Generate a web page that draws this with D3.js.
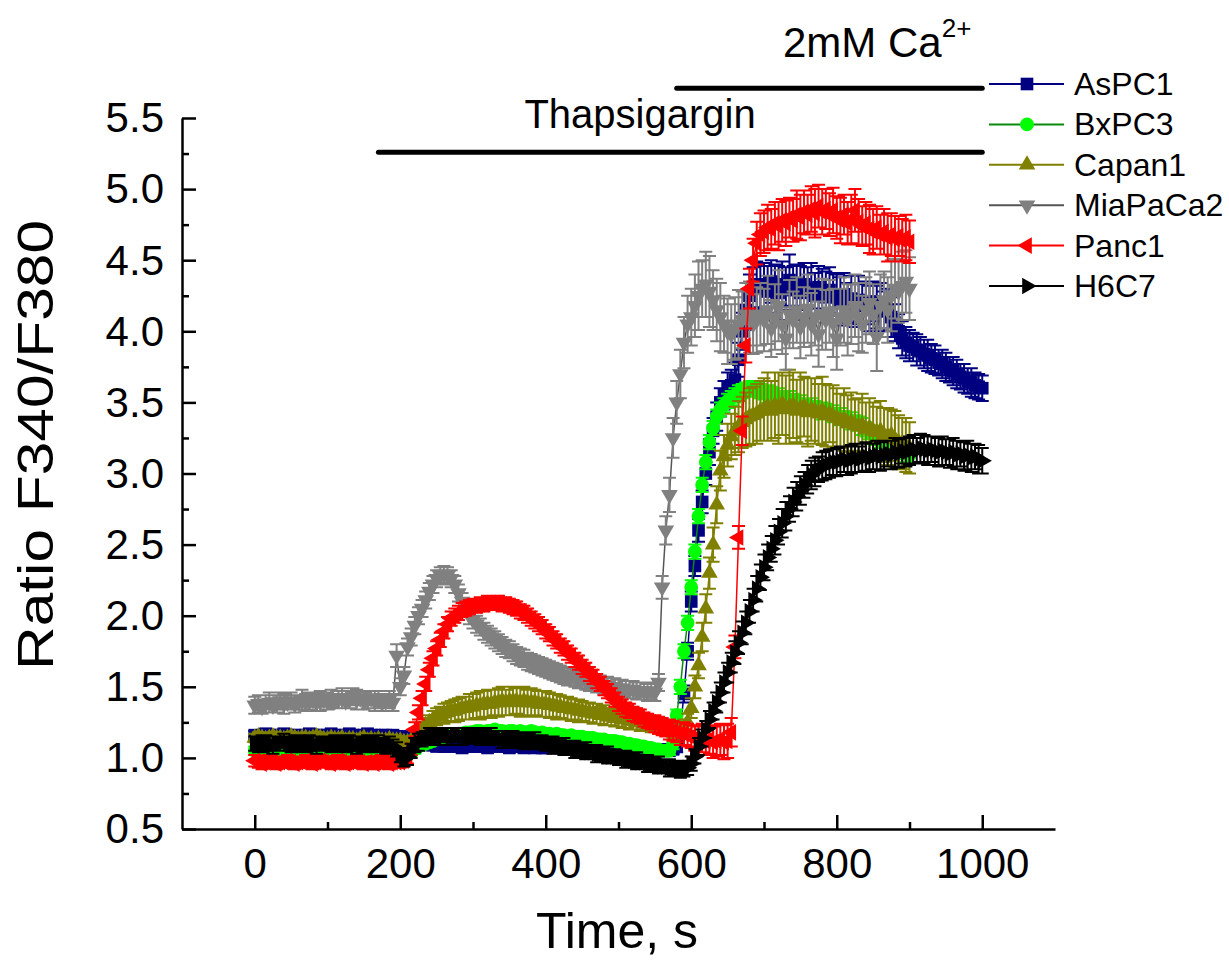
<!DOCTYPE html>
<html lang="en">
<head>
<meta charset="UTF-8">
<title>Ratio F340/F380</title>
<script src="https://cdn.jsdelivr.net/npm/d3@7"></script>
<style>
  body { margin: 0; background: #fff; }
  text { font-family: "Liberation Sans", Arial, sans-serif; fill: #000; }
</style>
</head>
<body>
<script>
// frames every 5 s
const dt = 5;

// F340/F380 ratio, one row = 100 s
const valAsPC1 = [
  1.16,1.15,1.16,1.17,1.16,1.15,1.16,1.16,1.17,1.16,1.15,1.16,1.16,1.15,1.16,1.17,1.16,1.16,1.15,1.16,
  1.16,1.17,1.16,1.15,1.16,1.16,1.17,1.16,1.15,1.16,1.16,1.17,1.16,1.16,1.15,1.16,1.16,1.15,1.16,1.15,
  1.15,1.15,1.14,1.13,1.12,1.11,1.10,1.10,1.09,1.09,1.08,1.09,1.08,1.08,1.09,1.08,1.08,1.07,1.08,1.08,
  1.08,1.09,1.08,1.08,1.07,1.08,1.08,1.09,1.08,1.08,1.07,1.08,1.08,1.08,1.07,1.08,1.08,1.07,1.08,1.07,
  1.07,1.08,1.07,1.07,1.08,1.07,1.07,1.06,1.07,1.07,1.08,1.07,1.07,1.06,1.07,1.07,1.06,1.07,1.07,1.06,
  1.07,1.06,1.06,1.07,1.06,1.06,1.05,1.06,1.06,1.05,1.06,1.06,1.05,1.06,1.05,1.06,1.08,1.20,1.45,1.75,
  2.10,2.35,2.60,2.80,3.00,3.15,3.30,3.40,3.50,3.55,3.60,3.62,3.66,3.80,4.00,4.15,4.25,4.30,4.33,4.30,
  4.32,4.28,4.35,4.30,4.27,4.33,4.30,4.36,4.29,4.31,4.27,4.33,4.28,4.30,4.25,4.31,4.27,4.24,4.29,4.26,
  4.24,4.21,4.26,4.20,4.23,4.18,4.22,4.19,4.20,4.16,4.21,4.17,4.18,4.14,4.15,4.10,4.06,4.00,3.95,3.92,
  3.90,3.89,3.87,3.86,3.84,3.83,3.81,3.80,3.78,3.77,3.75,3.73,3.72,3.70,3.68,3.67,3.65,3.64,3.62,3.61,
  3.60
];
const valBxPC3 = [
  1.05,1.04,1.05,1.06,1.05,1.04,1.05,1.05,1.06,1.05,1.04,1.05,1.05,1.06,1.05,1.04,1.05,1.05,1.04,1.05,
  1.05,1.06,1.05,1.04,1.05,1.05,1.06,1.05,1.04,1.05,1.05,1.04,1.05,1.06,1.05,1.05,1.04,1.05,1.05,1.04,
  1.04,1.03,1.03,1.04,1.06,1.08,1.09,1.10,1.11,1.12,1.13,1.14,1.15,1.15,1.16,1.16,1.17,1.17,1.18,1.18,
  1.18,1.19,1.19,1.18,1.19,1.19,1.20,1.19,1.19,1.18,1.19,1.19,1.18,1.19,1.18,1.18,1.19,1.18,1.17,1.18,
  1.17,1.17,1.16,1.17,1.16,1.16,1.15,1.16,1.15,1.15,1.15,1.14,1.14,1.14,1.13,1.13,1.13,1.12,1.12,1.12,
  1.11,1.11,1.10,1.10,1.09,1.09,1.08,1.08,1.07,1.07,1.06,1.06,1.05,1.05,1.05,1.10,1.30,1.50,1.75,1.95,
  2.20,2.45,2.70,2.92,3.08,3.22,3.32,3.40,3.45,3.48,3.51,3.53,3.55,3.57,3.58,3.59,3.60,3.60,3.59,3.58,
  3.57,3.56,3.56,3.55,3.54,3.53,3.53,3.52,3.51,3.50,3.49,3.48,3.48,3.47,3.46,3.45,3.44,3.44,3.43,3.42,
  3.41,3.40,3.39,3.38,3.37,3.36,3.35,3.33,3.31,3.29,3.27,3.25,3.23,3.21,3.20,3.18,3.17,3.16,3.15,3.14,
  3.13
];
const valCapan1 = [
  1.14,1.15,1.14,1.13,1.14,1.15,1.14,1.14,1.13,1.14,1.15,1.14,1.13,1.14,1.14,1.13,1.14,1.15,1.14,1.13,
  1.13,1.14,1.13,1.13,1.14,1.12,1.13,1.13,1.12,1.13,1.14,1.12,1.13,1.12,1.13,1.12,1.12,1.13,1.12,1.12,
  1.12,1.11,1.11,1.12,1.15,1.18,1.20,1.23,1.25,1.27,1.29,1.30,1.31,1.32,1.33,1.33,1.34,1.35,1.35,1.36,
  1.36,1.37,1.37,1.38,1.38,1.38,1.39,1.39,1.40,1.39,1.40,1.40,1.40,1.39,1.40,1.39,1.39,1.39,1.38,1.38,
  1.38,1.37,1.37,1.36,1.36,1.35,1.35,1.34,1.34,1.33,1.33,1.32,1.32,1.31,1.31,1.30,1.30,1.29,1.29,1.28,
  1.28,1.27,1.27,1.26,1.26,1.25,1.25,1.24,1.24,1.23,1.23,1.22,1.22,1.21,1.21,1.20,1.20,1.20,1.21,1.25,
  1.35,1.50,1.65,1.85,2.05,2.30,2.50,2.78,3.02,3.12,3.20,3.26,3.30,3.33,3.36,3.38,3.40,3.41,3.42,3.44,
  3.45,3.47,3.44,3.48,3.46,3.49,3.45,3.47,3.48,3.44,3.46,3.47,3.43,3.45,3.44,3.42,3.44,3.41,3.42,3.40,
  3.39,3.37,3.38,3.35,3.36,3.34,3.33,3.34,3.31,3.32,3.30,3.29,3.30,3.27,3.26,3.27,3.24,3.22,3.21,3.20,
  3.18
];
const valMiaPaCa2 = [
  1.37,1.38,1.36,1.38,1.39,1.37,1.38,1.40,1.38,1.39,1.40,1.38,1.39,1.41,1.39,1.40,1.41,1.39,1.40,1.41,
  1.40,1.42,1.40,1.41,1.42,1.40,1.41,1.43,1.41,1.42,1.40,1.41,1.42,1.40,1.41,1.39,1.40,1.41,1.39,1.72,
  1.50,1.58,1.78,1.85,1.93,2.00,2.05,2.11,2.17,2.22,2.26,2.28,2.29,2.28,2.26,2.22,2.16,2.10,2.05,2.00,
  1.97,1.94,1.92,1.89,1.87,1.85,1.83,1.81,1.79,1.77,1.76,1.74,1.72,1.71,1.70,1.68,1.67,1.66,1.65,1.64,
  1.63,1.62,1.61,1.60,1.59,1.58,1.57,1.57,1.56,1.55,1.55,1.54,1.53,1.53,1.52,1.52,1.51,1.51,1.50,1.50,
  1.49,1.49,1.48,1.48,1.48,1.47,1.47,1.47,1.46,1.47,1.46,1.53,2.20,2.60,2.85,3.25,3.50,3.70,3.92,4.05,
  4.10,4.18,4.25,4.30,4.33,4.28,4.22,4.15,4.10,4.05,4.00,3.98,4.02,4.05,4.08,4.12,4.10,4.05,4.08,4.12,
  4.08,4.15,4.02,4.10,4.18,4.05,3.95,4.12,4.08,4.15,4.03,4.10,4.16,4.05,4.10,3.98,4.12,4.08,4.14,4.06,
  3.95,4.10,4.15,4.08,4.12,4.18,4.10,4.05,4.15,4.20,4.12,3.96,4.18,4.22,4.15,4.25,4.30,4.28,4.32,4.35,
  4.30
];
const valPanc1 = [
  0.98,0.97,0.96,0.97,0.98,0.97,0.96,0.97,0.97,0.98,0.97,0.96,0.97,0.97,0.98,0.97,0.96,0.97,0.98,0.97,
  0.97,0.96,0.97,0.98,0.97,0.96,0.97,0.97,0.98,0.97,0.96,0.97,0.97,0.96,0.97,0.98,0.97,0.96,0.97,0.97,
  0.97,0.98,1.00,1.06,1.20,1.32,1.42,1.52,1.62,1.70,1.77,1.83,1.89,1.94,1.98,2.00,2.02,2.04,2.05,2.06,
  2.07,2.07,2.08,2.08,2.09,2.09,2.09,2.09,2.08,2.08,2.07,2.06,2.05,2.03,2.02,2.00,1.98,1.96,1.94,1.92,
  1.89,1.87,1.84,1.82,1.79,1.77,1.74,1.72,1.69,1.67,1.64,1.62,1.59,1.57,1.54,1.52,1.49,1.47,1.44,1.41,
  1.38,1.36,1.34,1.33,1.31,1.30,1.29,1.27,1.26,1.25,1.24,1.23,1.22,1.21,1.20,1.19,1.18,1.17,1.17,1.16,
  1.15,1.14,1.13,1.14,1.12,1.13,1.11,1.12,1.13,1.11,1.12,1.18,1.78,2.55,3.30,3.90,4.30,4.50,4.62,4.68,
  4.70,4.73,4.72,4.76,4.74,4.78,4.76,4.80,4.78,4.82,4.80,4.84,4.82,4.86,4.83,4.88,4.84,4.86,4.82,4.85,
  4.80,4.78,4.82,4.76,4.79,4.85,4.77,4.74,4.76,4.72,4.70,4.73,4.68,4.70,4.66,4.68,4.65,4.67,4.64,4.66,
  4.63
];
const valH6C7 = [
  1.10,1.09,1.10,1.11,1.10,1.09,1.10,1.10,1.11,1.10,1.09,1.10,1.10,1.09,1.10,1.11,1.10,1.09,1.10,1.10,
  1.10,1.09,1.10,1.10,1.09,1.10,1.11,1.10,1.09,1.10,1.09,1.10,1.10,1.09,1.10,1.09,1.08,1.09,1.08,1.06,
  1.02,0.99,1.01,1.05,1.09,1.11,1.13,1.14,1.15,1.15,1.16,1.15,1.16,1.16,1.15,1.16,1.16,1.15,1.16,1.15,
  1.15,1.16,1.15,1.15,1.14,1.15,1.14,1.14,1.13,1.14,1.13,1.13,1.12,1.13,1.12,1.12,1.11,1.12,1.11,1.11,
  1.10,1.10,1.09,1.09,1.08,1.08,1.07,1.07,1.06,1.06,1.05,1.05,1.04,1.04,1.03,1.03,1.02,1.02,1.01,1.01,
  1.00,1.00,0.99,0.99,0.98,0.98,0.97,0.97,0.96,0.96,0.95,0.95,0.94,0.94,0.93,0.93,0.92,0.92,0.92,0.93,
  0.96,1.01,1.08,1.14,1.20,1.27,1.33,1.39,1.46,1.53,1.60,1.67,1.74,1.81,1.88,1.95,2.03,2.11,2.19,2.27,
  2.34,2.41,2.47,2.53,2.59,2.65,2.70,2.75,2.80,2.84,2.88,2.92,2.96,2.99,3.01,3.03,3.05,3.06,3.07,3.08,
  3.08,3.09,3.10,3.09,3.10,3.11,3.10,3.11,3.12,3.11,3.12,3.13,3.12,3.13,3.14,3.13,3.15,3.14,3.16,3.15,
  3.16,3.17,3.16,3.18,3.17,3.16,3.17,3.16,3.15,3.16,3.15,3.14,3.15,3.13,3.14,3.12,3.13,3.11,3.12,3.10,
  3.09
];

// SEM, in hundredths of a ratio unit
const errAsPC1 = [
  3,3,3,3,3,3,3,3,3,3,3,3,3,3,3,3,3,3,3,3,
  3,3,3,3,3,3,3,3,3,3,3,3,3,3,3,3,3,3,3,3,
  3,3,3,3,3,3,3,3,3,3,3,3,3,3,3,3,3,3,3,3,
  3,3,3,3,3,3,3,3,3,3,3,3,3,3,3,3,3,3,3,3,
  3,3,3,3,3,3,3,3,3,3,3,3,3,3,3,3,3,3,3,3,
  3,3,3,3,3,3,3,3,3,3,3,3,3,3,3,3,4,5,6,6,
  7,7,8,8,8,9,9,10,10,10,11,11,12,12,13,14,15,15,16,16,
  16,18,15,17,19,16,15,18,17,16,19,15,17,18,16,15,17,18,16,15,
  16,17,15,14,16,15,17,14,15,16,14,15,16,14,15,14,13,12,12,11,
  11,10,11,10,10,11,10,10,9,10,10,9,10,10,9,10,9,10,9,9,
  9
];
const errBxPC3 = [
  3,3,3,3,3,3,3,3,3,3,3,3,3,3,3,3,3,3,3,3,
  3,3,3,3,3,3,3,3,3,3,3,3,3,3,3,3,3,3,3,3,
  3,3,3,3,3,3,3,3,3,3,3,3,3,3,3,3,3,3,3,3,
  3,3,3,3,3,3,3,3,3,3,3,3,3,3,3,3,3,3,3,3,
  3,3,3,3,3,3,3,3,3,3,3,3,3,3,3,3,3,3,3,3,
  3,3,3,3,3,3,3,3,3,3,3,3,3,3,3,4,4,5,5,5,
  5,5,5,5,5,5,5,5,5,5,5,5,5,5,5,5,5,5,5,5,
  5,6,5,5,6,5,5,6,5,5,6,5,5,6,5,5,6,5,5,6,
  5,6,5,5,6,5,5,6,5,5,6,5,5,6,5,5,6,5,5,6,
  5
];
const errCapan1 = [
  3,3,3,3,3,3,3,3,3,3,3,3,3,3,3,3,3,3,3,3,
  3,3,3,3,3,3,3,3,3,3,3,3,3,3,3,3,3,3,3,3,
  3,3,3,3,4,4,5,5,5,6,6,6,7,7,7,8,8,8,8,9,
  9,9,10,9,10,10,9,10,10,9,10,10,9,10,10,9,10,9,9,9,
  9,9,8,9,8,8,8,8,7,8,7,7,7,7,7,6,7,6,6,6,
  6,6,6,6,6,5,6,5,5,5,5,5,5,5,5,5,5,5,6,6,
  7,8,9,10,10,11,12,13,14,15,15,16,17,18,18,19,20,20,21,21,
  22,24,21,23,25,22,24,26,23,22,25,21,24,22,23,21,24,22,20,22,
  21,19,22,20,21,18,20,22,19,21,20,18,21,19,20,18,20,19,18,19,
  18
];
const errMiaPaCa2 = [
  6,6,5,6,7,5,6,6,7,5,6,6,5,7,6,6,5,6,7,5,
  6,6,5,6,7,5,6,6,7,5,6,6,5,7,6,6,5,6,6,8,
  6,6,6,6,6,6,6,6,6,6,6,6,6,6,6,6,6,6,6,6,
  6,6,6,6,6,6,6,6,6,6,6,6,6,6,6,6,6,6,6,6,
  6,6,6,6,6,6,6,6,6,6,6,6,6,6,6,6,6,6,6,6,
  6,6,6,6,6,6,6,6,6,6,6,6,8,10,12,14,15,17,18,20,
  20,22,24,20,23,25,21,22,24,20,23,21,22,24,20,22,25,21,23,22,
  22,24,20,23,25,21,22,24,20,23,22,21,24,22,20,23,25,21,22,24,
  22,20,23,25,21,22,24,20,23,22,21,24,22,20,23,25,21,22,24,22,
  22
];
const errPanc1 = [
  4,4,4,4,4,4,4,4,4,4,4,4,4,4,4,4,4,4,4,4,
  4,4,4,4,4,4,4,4,4,4,4,4,4,4,4,4,4,4,4,4,
  4,4,4,4,5,5,5,5,5,5,5,5,5,5,5,5,5,5,5,5,
  5,5,5,5,5,5,5,5,5,5,5,5,5,5,5,5,5,5,5,5,
  5,5,5,5,5,5,5,5,5,5,5,5,5,5,5,5,5,5,5,5,
  5,5,5,5,5,5,5,5,5,5,6,6,6,6,7,7,7,8,8,8,
  8,9,9,10,10,10,11,11,11,12,12,10,8,8,10,12,14,15,15,15,
  15,16,14,15,17,15,16,14,15,17,16,15,14,16,17,15,16,14,15,16,
  15,16,14,15,17,15,16,14,15,17,16,15,14,16,17,15,16,14,15,16,
  15
];
const errH6C7 = [
  5,5,6,5,5,6,5,5,6,5,5,6,5,5,6,5,5,6,5,5,
  5,5,6,5,5,6,5,5,6,5,5,6,5,5,6,5,5,6,5,5,
  5,5,6,5,5,6,5,5,6,5,5,6,5,5,6,5,5,6,5,5,
  5,5,6,5,5,6,5,5,6,5,5,6,5,5,6,5,5,6,5,5,
  5,5,6,5,5,6,5,5,6,5,5,6,5,5,6,5,5,6,5,5,
  5,5,6,5,5,6,5,5,6,5,5,6,5,5,6,5,5,6,5,5,
  5,5,6,6,6,6,6,7,7,7,7,7,8,8,8,8,8,8,9,9,
  9,9,9,10,9,10,10,9,10,10,10,9,10,10,10,9,10,10,10,9,
  10,10,9,10,10,10,9,10,10,10,9,10,10,10,9,10,10,10,9,10,
  10,10,9,10,10,10,9,10,10,10,9,10,10,10,9,10,10,10,9,10,
  9
];

const cellLines = ["AsPC1", "BxPC3", "Capan1", "MiaPaCa2", "Panc1", "H6C7"];
const xTicks = [0, 200, 400, 600, 800, 1000];
const yTicks = [0.5, 1.0, 1.5, 2.0, 2.5, 3.0, 3.5, 4.0, 4.5, 5.0, 5.5];

// treatment bars: start / end in s, height in ratio units
const thapsiBar = [170, 1000, 5.26];
const calciumBar = [580, 1000, 5.71];

var W = 1229, H = 961;
var svg = d3.select("body").append("svg")
    .attr("width", W)
    .attr("height", H);

var x = d3.scaleLinear().domain([-100, 1100]).range([182, 1055]);
var y = d3.scaleLinear().domain([0.5, 5.5]).range([829, 118]);

// style per cell line
var looks = {
  AsPC1:    {vals: valAsPC1,    errs: errAsPC1,    sym: d3.symbolSquare,   size: 160, rot: 0,   fill: "#000080", line: "#000080"},
  BxPC3:    {vals: valBxPC3,    errs: errBxPC3,    sym: d3.symbolCircle,   size: 150, rot: 0,   fill: "#00ff00", line: "#0a8a0a"},
  Capan1:   {vals: valCapan1,   errs: errCapan1,   sym: d3.symbolTriangle, size: 120, rot: 0,   fill: "#808000", line: "#808000"},
  MiaPaCa2: {vals: valMiaPaCa2, errs: errMiaPaCa2, sym: d3.symbolTriangle, size: 120, rot: 180, fill: "#808080", line: "#555555"},
  Panc1:    {vals: valPanc1,    errs: errPanc1,    sym: d3.symbolTriangle, size: 120, rot: -90, fill: "#ff0000", line: "#ff0000"},
  H6C7:     {vals: valH6C7,     errs: errH6C7,     sym: d3.symbolTriangle, size: 120, rot: 90,  fill: "#000000", line: "#000000"}
};

var cap = 6.5; // half width of error bar caps

// ---- traces ----
cellLines.forEach(function(name) {
  var s = looks[name];
  var pts = s.vals.map(function(v, i) {
    return {t: i * dt, v: v, e: s.errs[i] / 100};
  });
  var g = svg.append("g").attr("class", "trace");

  g.append("path")
    .attr("d", d3.line().x(d => x(d.t)).y(d => y(d.v))(pts))
    .attr("fill", "none")
    .attr("stroke", s.line)
    .attr("stroke-width", 1.5);

  // error bars with caps
  var eb = pts.map(function(d) {
    var px = x(d.t), lo = y(d.v - d.e), hi = y(d.v + d.e);
    return "M" + px + "," + lo + "V" + hi +
           "M" + (px - cap) + "," + hi + "h" + (2 * cap) +
           "M" + (px - cap) + "," + lo + "h" + (2 * cap);
  }).join("");
  g.append("path")
    .attr("d", eb)
    .attr("fill", "none")
    .attr("stroke", s.fill)
    .attr("stroke-width", 2);

  var symPath = d3.symbol().type(s.sym).size(s.size)();
  g.selectAll(".mk")
    .data(pts)
    .enter()
    .append("path")
    .attr("class", "mk")
    .attr("d", symPath)
    .attr("transform", d => "translate(" + x(d.t) + "," + y(d.v) + ") rotate(" + s.rot + ")")
    .attr("fill", s.fill);
});

// ---- axes ----
var xAxis = svg.append("g")
    .attr("transform", "translate(0," + y(0.5) + ")")
    .call(d3.axisBottom(x).tickValues(xTicks).tickSizeInner(-14).tickSizeOuter(0)
      .tickPadding(19).tickFormat(d3.format("d")));
svg.append("g")
    .attr("transform", "translate(0," + y(0.5) + ")")
    .call(d3.axisBottom(x).tickValues([100, 300, 500, 700, 900]).tickSizeInner(-7)
      .tickSizeOuter(0).tickFormat(""))
    .call(g => g.select(".domain").remove());

var yAxis = svg.append("g")
    .attr("transform", "translate(" + x(-100) + ",0)")
    .call(d3.axisLeft(y).tickValues(yTicks).tickSizeInner(-14).tickSizeOuter(0)
      .tickPadding(18).tickFormat(d3.format(".1f")));
svg.append("g")
    .attr("transform", "translate(" + x(-100) + ",0)")
    .call(d3.axisLeft(y).tickValues(d3.range(0.75, 5.5, 0.5)).tickSizeInner(-7)
      .tickSizeOuter(0).tickFormat(""))
    .call(g => g.select(".domain").remove());

svg.selectAll(".domain").attr("stroke-width", 2.5).attr("stroke", "#000");
svg.selectAll(".tick line").attr("stroke-width", 2.5).attr("stroke", "#000");
xAxis.selectAll("text").style("font-size", "42px").attr("fill", "#000");
yAxis.selectAll("text").style("font-size", "42px").attr("fill", "#000").attr("dy", "0.33em");

svg.append("text")
    .attr("x", 617)
    .attr("y", 948)
    .attr("text-anchor", "middle")
    .style("font-size", "50px")
    .text("Time, s");

svg.append("text")
    .attr("transform", "translate(53,445) rotate(-90)")
    .attr("text-anchor", "middle")
    .attr("textLength", 450)
    .attr("lengthAdjust", "spacingAndGlyphs")
    .style("font-size", "50px")
    .text("Ratio F340/F380");

// ---- treatment bars ----
[thapsiBar, calciumBar].forEach(function(b) {
  svg.append("line")
    .attr("x1", x(b[0])).attr("x2", x(b[1]))
    .attr("y1", y(b[2])).attr("y2", y(b[2]))
    .attr("stroke", "#000")
    .attr("stroke-width", 5)
    .attr("stroke-linecap", "round");
});

svg.append("text")
    .attr("x", 640)
    .attr("y", 128)
    .attr("text-anchor", "middle")
    .style("font-size", "40px")
    .text("Thapsigargin");

var ca = svg.append("text")
    .attr("x", 783)
    .attr("y", 57)
    .style("font-size", "42px");
ca.append("tspan").text("2mM Ca");
ca.append("tspan").attr("dy", -20).style("font-size", "26px").text("2+");

// ---- legend ----
var legend = svg.append("g").attr("class", "legend");
cellLines.forEach(function(name, i) {
  var s = looks[name];
  var cy = 84 + i * 40.4;
  legend.append("line")
    .attr("x1", 989).attr("x2", 1064)
    .attr("y1", cy).attr("y2", cy)
    .attr("stroke", s.line)
    .attr("stroke-width", 2);
  legend.append("path")
    .attr("d", d3.symbol().type(s.sym).size(s.size)())
    .attr("transform", "translate(1027," + cy + ") rotate(" + s.rot + ")")
    .attr("fill", s.fill);
  legend.append("text")
    .attr("x", 1074)
    .attr("y", cy + 11)
    .style("font-size", "32px")
    .text(name);
});
</script>
</body>
</html>
